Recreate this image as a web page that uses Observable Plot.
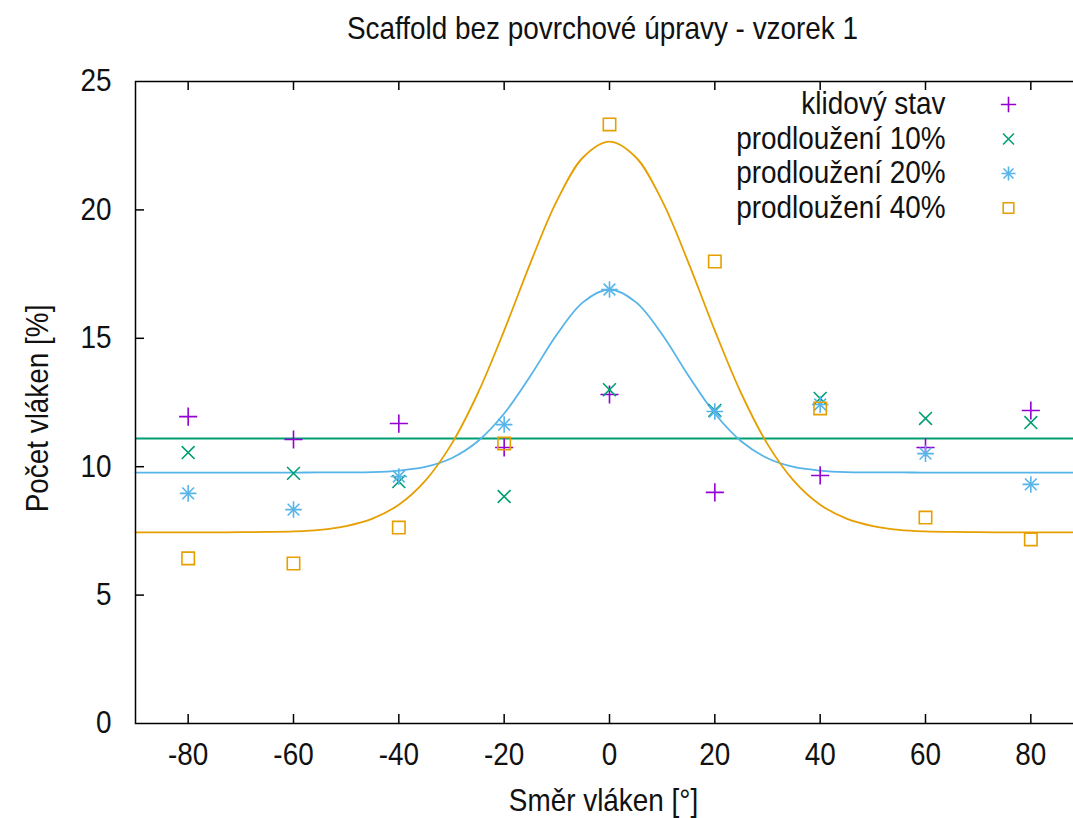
<!DOCTYPE html>
<html><head><meta charset="utf-8">
<script src="https://cdn.jsdelivr.net/npm/d3@7"></script>
<script src="https://cdn.jsdelivr.net/npm/@observablehq/plot@0.6"></script>
<style>
html,body{margin:0;padding:0;background:#fff;overflow:hidden;}
#chart{width:1073px;height:818px;overflow:hidden;}
#chart svg{max-width:none !important;}
</style></head><body><div id="chart"></div>
<script>
// measured angles (°)
const angles = [-80, -60, -40, -20, 0, 20, 40, 60, 80];
// Počet vláken [%]
const klidovy = [11.95, 11.06, 11.68, 10.75, 12.81, 9.00, 9.66, 10.75, 12.19];
const prod10  = [10.55, 9.74, 9.42, 8.84, 13.00, 12.19, 12.66, 11.88, 11.72];
const prod20  = [8.96, 8.33, 9.62, 11.64, 16.90, 12.15, 12.42, 10.51, 9.31];
const prod40  = [6.43, 6.23, 7.63, 10.90, 23.33, 17.99, 12.27, 8.02, 7.17];

// fitted curves
const fitX   = [-90,-85,-80,-75,-70,-65,-60,-55,-50,-45,-40,-35,-30,-25,-20,-15,-10,-5,0,5,10,15,20,25,30,35,40,45,50,55,60,65,70,75,80,85,90];
const fit10  = 11.1;
const fit20  = [9.77,9.77,9.77,9.77,9.77,9.77,9.77,9.78,9.78,9.79,9.85,9.99,10.33,10.99,12.07,13.54,15.15,16.41,16.9,16.41,15.15,13.54,12.07,10.99,10.33,9.99,9.85,9.79,9.78,9.78,9.77,9.77,9.77,9.77,9.77,9.77,9.77];
const fit40  = [7.44,7.44,7.44,7.44,7.45,7.46,7.48,7.54,7.69,7.98,8.52,9.45,10.88,12.86,15.30,17.94,20.35,22.05,22.66,22.05,20.35,17.94,15.30,12.86,10.88,9.45,8.52,7.98,7.69,7.54,7.48,7.46,7.45,7.44,7.44,7.44,7.44];

const xTicks = [-80, -60, -40, -20, 0, 20, 40, 60, 80];
const yTicks = [0, 5, 10, 15, 20, 25];

const seriesNames = ["klidový stav", "prodloužení 10%", "prodloužení 20%", "prodloužení 40%"];
const seriesValues = [klidovy, prod10, prod20, prod40];
const seriesColors = ["#9400d3", "#009e73", "#56b4e9", "#e69f00"];
// gnuplot point types: +, x, * (plus and x overlaid), open square
const seriesSymbols = [["plus"], ["times"], ["plus", "times"], ["square"]];
const seriesR = [5.9, 5.9, 5.4, 7];

const titleText = "Scaffold bez povrchové úpravy - vzorek 1";
const xLabel = "Směr vláken [°]";
const yLabel = "Počet vláken [%]";

const W = 1100, H = 818;
const mL = 135, mR = 17, mT = 81, mB = 95;
const frameW = W - mL - mR, frameH = H - mT - mB;
const FONT = "'Liberation Sans', Arial, sans-serif";
const FS = 31;
const SX = 0.9;

const points = seriesNames.flatMap((name, i) =>
  angles.map((a, j) => ({name, i, x: a, y: seriesValues[i][j]})));
const curve20 = fitX.map((x, j) => ({x, y: fit20[j]}));
const curve40 = fitX.map((x, j) => ({x, y: fit40[j]}));

const marks = [
  Plot.tickX(xTicks, {x: d => d, insetTop: frameH - 9, stroke: "#000", strokeWidth: 1.5}),
  Plot.tickX(xTicks, {x: d => d, insetBottom: frameH - 9, stroke: "#000", strokeWidth: 1.5}),
  Plot.tickY(yTicks.slice(1, -1), {y: d => d, insetRight: frameW - 9, stroke: "#000", strokeWidth: 1.5}),
  Plot.axisX({ticks: xTicks, tickSize: 0, tickPadding: 19, label: null, fill: "#111", tickFormat: d => String(d)}),
  Plot.axisY({ticks: yTicks, tickSize: 0, tickPadding: 24, label: null, fill: "#111", tickFormat: d => String(d)}),
  Plot.ruleY([fit10], {y: d => d, stroke: seriesColors[1], strokeWidth: 2}),
  Plot.line(curve20, {x: "x", y: "y", stroke: seriesColors[2], strokeWidth: 1.8, curve: "catmull-rom"}),
  Plot.line(curve40, {x: "x", y: "y", stroke: seriesColors[3], strokeWidth: 1.8, curve: "catmull-rom"}),
  ...seriesNames.flatMap((name, i) => seriesSymbols[i].map(sym =>
    Plot.dot(points.filter(p => p.i === i), {x: "x", y: "y", symbol: () => sym, r: seriesR[i],
      stroke: seriesColors[i], fill: "none", strokeWidth: 1.6}))),
  Plot.frame({stroke: "#000", strokeWidth: 1.5}),
  Plot.text([titleText], {text: d => d, frameAnchor: "top", dy: -52, dx: -7, lineAnchor: "middle", fill: "#111"}),
  Plot.text([xLabel], {text: d => d, frameAnchor: "bottom", dy: 78, dx: -6, lineAnchor: "middle", fill: "#111"}),
  Plot.text([yLabel], {text: d => d, frameAnchor: "left", dx: -97, dy: 6, rotate: -90, lineAnchor: "middle", textAnchor: "middle", fill: "#111"}),
  ...seriesNames.flatMap((name, i) => [
    Plot.text([name], {text: d => d, frameAnchor: "top-right", dx: -138, dy: 23 + i * 34.5, textAnchor: "end", lineAnchor: "middle", fill: "#111"}),
    ...seriesSymbols[i].map(sym =>
      Plot.dot([name], {frameAnchor: "top-right", dx: -75, dy: 23 + i * 34.5, symbol: () => sym, r: seriesR[i] * 0.85,
        stroke: seriesColors[i], fill: "none", strokeWidth: 1.6}))
  ])
];

const chart = Plot.plot({
  width: W, height: H,
  marginLeft: mL, marginRight: mR, marginTop: mT, marginBottom: mB,
  x: {domain: [-90, 90]},
  y: {domain: [0, 25]},
  symbol: {type: "identity"},
  style: {fontFamily: FONT, fontSize: FS + "px", background: "#fff", color: "#111", overflow: "visible", maxWidth: "none"},
  marks
});
// gnuplot's text is slightly condensed: squeeze every label horizontally
d3.select(chart).selectAll("text").each(function () {
  const t = this.getAttribute("transform") || "";
  this.setAttribute("transform", (t + ` scale(${SX},1)`).trim());
});
document.getElementById("chart").appendChild(chart);
</script></body></html>
